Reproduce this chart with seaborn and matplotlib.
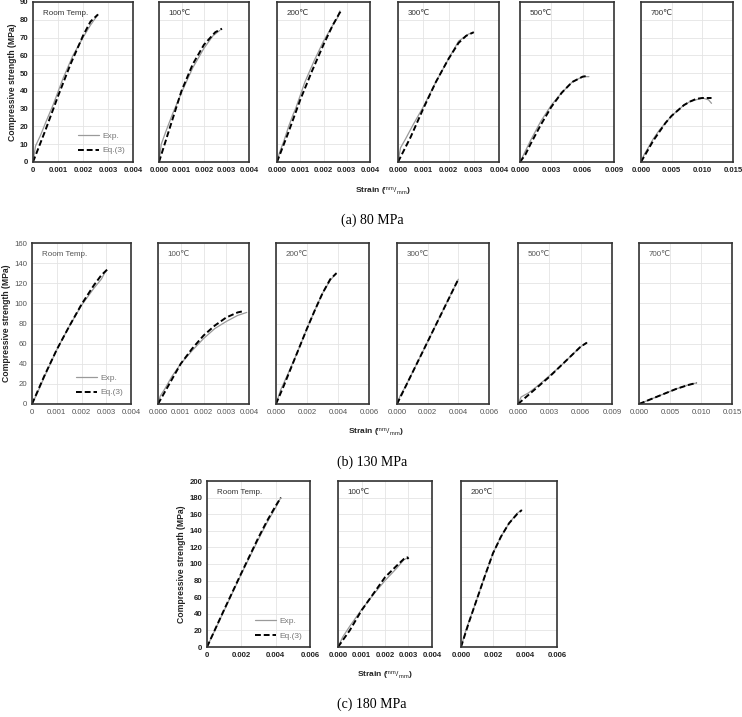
import matplotlib
matplotlib.use("Agg")
import matplotlib.pyplot as plt
import seaborn as sns
import numpy as np

# ---- data (strain, stress MPa) ----
# (a) 80 MPa
exp_80_rt = [(0, 0), (0.0001, 9), (0.0003, 15), (0.0005, 22), (0.0008, 32), (0.0012, 47), (0.0016, 60), (0.002, 70), (0.0023, 77), (0.0025, 81), (0.0026, 83)]
eq_80_rt = [(0, 0), (0.0005, 18), (0.001, 37), (0.0015, 55), (0.002, 71), (0.0023, 79), (0.0026, 83)]
exp_80_100 = [(0, 0), (0.0001, 10), (0.0003, 17), (0.0006, 27), (0.001, 39), (0.0015, 53), (0.002, 64), (0.0024, 71), (0.0027, 74)]
eq_80_100 = [(0, 0), (0.0005, 20), (0.001, 40), (0.0015, 55), (0.002, 66), (0.0025, 73), (0.0028, 75)]
exp_80_200 = [(0, 0), (0.0001, 5), (0.0003, 12), (0.0005, 20), (0.0007, 27), (0.0008, 30), (0.0012, 45), (0.0016, 57), (0.002, 68), (0.0024, 77), (0.0026, 81), (0.0027, 85)]
eq_80_200 = [(0, 0), (0.0005, 17), (0.001, 35), (0.0015, 51), (0.002, 66), (0.0024, 77), (0.0027, 84), (0.0028, 85)]
exp_80_300 = [(0, 0), (0.0001, 8), (0.0003, 13), (0.0006, 21), (0.001, 31), (0.0015, 45), (0.002, 58), (0.0024, 68), (0.0026, 70), (0.0028, 72), (0.003, 73)]
eq_80_300 = [(0, 0), (0.0005, 14), (0.001, 30), (0.0015, 45), (0.002, 58), (0.0024, 67), (0.0027, 71), (0.003, 73)]
exp_80_500 = [(0, 0), (0.0005, 6), (0.001, 12), (0.002, 23), (0.003, 32), (0.004, 39), (0.005, 45), (0.006, 48), (0.0066, 48)]
eq_80_500 = [(0, 0), (0.0005, 4), (0.001, 10), (0.002, 21), (0.003, 31), (0.004, 39), (0.005, 45), (0.006, 48), (0.0065, 48.5)]
exp_80_700 = [(0, 0), (0.0005, 4), (0.001, 7), (0.002, 13), (0.003, 18), (0.004, 22), (0.005, 26), (0.006, 29), (0.007, 32), (0.008, 34), (0.009, 35), (0.010, 36), (0.011, 35), (0.0115, 33)]
eq_80_700 = [(0, 0), (0.001, 6), (0.002, 12), (0.003, 17), (0.004, 22), (0.005, 26), (0.006, 29), (0.007, 32), (0.008, 34), (0.009, 35.5), (0.010, 36), (0.0115, 36)]

# (b) 130 MPa
exp_130_rt = [(0, 0), (0.0002, 10), (0.0005, 27), (0.001, 54), (0.0015, 77), (0.002, 98), (0.0025, 115), (0.0028, 124), (0.003, 133)]
eq_130_rt = [(0, 0), (0.0005, 28), (0.001, 54), (0.0015, 77), (0.002, 99), (0.0025, 118), (0.0028, 128), (0.0031, 135)]
exp_130_100 = [(0, 0), (0.0001, 8), (0.0003, 15), (0.0006, 27), (0.001, 40), (0.0015, 53), (0.002, 65), (0.0025, 75), (0.003, 82), (0.0035, 88), (0.0039, 91)]
eq_130_100 = [(0, 0), (0.0005, 20), (0.001, 40), (0.0015, 55), (0.002, 68), (0.0025, 78), (0.003, 86), (0.0035, 91), (0.0037, 92)]
exp_130_200 = [(0, 0), (0.0003, 14), (0.0008, 31), (0.0012, 45), (0.0015, 56), (0.002, 75), (0.0025, 93), (0.003, 110), (0.0035, 123), (0.0039, 130)]
eq_130_200 = [(0, 0), (0.0005, 18), (0.001, 37), (0.0015, 56), (0.002, 75), (0.0025, 93), (0.003, 110), (0.0035, 124), (0.0039, 130)]
exp_130_300 = [(0, 0), (0.0002, 8), (0.0005, 16), (0.001, 31), (0.002, 62), (0.003, 93), (0.004, 124)]
eq_130_300 = [(0, 0), (0.001, 31), (0.002, 62), (0.003, 93), (0.004, 124)]
exp_130_500 = [(0, 0), (0.0003, 7), (0.001, 11), (0.002, 19), (0.003, 28), (0.004, 37), (0.005, 47), (0.006, 57), (0.0066, 61)]
eq_130_500 = [(0, 0), (0.001, 9), (0.002, 18), (0.003, 27), (0.004, 37), (0.005, 47), (0.006, 57), (0.0066, 61)]
exp_130_700 = [(0, 0), (0.002, 5), (0.004, 10), (0.006, 15), (0.008, 19), (0.0093, 21)]
eq_130_700 = [(0, 0), (0.002, 5), (0.004, 10), (0.006, 15), (0.008, 19), (0.0093, 21)]

# (c) 180 MPa
exp_180_rt = [(0, 0), (0.001, 44), (0.002, 88), (0.003, 130), (0.0035, 150), (0.004, 168), (0.0043, 180)]
eq_180_rt = [(0, 0), (0.001, 45), (0.002, 89), (0.003, 132), (0.0035, 152), (0.004, 170), (0.0043, 180)]
exp_180_100 = [(0, 0), (0.0002, 12), (0.0005, 25), (0.001, 45), (0.0015, 63), (0.002, 80), (0.0025, 95), (0.0028, 105), (0.003, 108)]
eq_180_100 = [(0, 0), (0.0005, 20), (0.001, 44), (0.0015, 64), (0.002, 84), (0.0025, 98), (0.0028, 106), (0.00295, 108), (0.003, 106)]
exp_180_200 = [(0, 0), (0.0003, 20), (0.001, 58), (0.0015, 86), (0.002, 113), (0.0025, 133), (0.003, 149), (0.0035, 161), (0.0038, 165)]
eq_180_200 = [(0, 0), (0.0005, 30), (0.001, 58), (0.0015, 86), (0.002, 113), (0.0025, 133), (0.003, 149), (0.0035, 160), (0.0038, 165)]

panel_labels = ["Room Temp.", "100℃", "200℃", "300℃", "500℃", "700℃"]
ticks_004 = [0, 0.001, 0.002, 0.003, 0.004]
ticks_006 = [0, 0.002, 0.004, 0.006]
ticks_009 = [0, 0.003, 0.006, 0.009]
ticks_015 = [0, 0.005, 0.010, 0.015]
captions = ["(a) 80 MPa", "(b) 130 MPa", "(c) 180 MPa"]

W, H = 742, 717

sns.set_theme(style="whitegrid")
plt.rcParams["font.family"] = ["Liberation Sans", "DejaVu Sans"]
plt.rcParams["mathtext.fontset"] = "custom"
plt.rcParams["mathtext.rm"] = "Liberation Sans"
plt.rcParams["mathtext.it"] = "Liberation Sans"

fig = plt.figure(figsize=(W / 100, H / 100), dpi=100)


def box(x0, x1, y0, y1):
    return [x0 / W, 1 - y1 / H, (x1 - x0) / W, (y1 - y0) / H]


def panel(pos, exp, eq, xticks, ymax, ystep, label, first, bold):
    ax = fig.add_axes(box(*pos))
    ex = np.array(exp)
    qx = np.array(eq)
    sns.lineplot(x=ex[:, 0], y=ex[:, 1], ax=ax, color="#9a9a9a", linewidth=0.9,
                 label="Exp.", sort=False, estimator=None)
    sns.lineplot(x=qx[:, 0], y=qx[:, 1], ax=ax, color="black", linewidth=1.4,
                 linestyle=(0, (3, 1.5)), label="Eq.(3)", sort=False, estimator=None)
    ax.set_xlim(0, xticks[-1])
    ax.set_ylim(0, ymax)
    ax.set_xticks(xticks)
    ax.set_yticks(np.arange(0, ymax + 1, ystep))
    tcol = "#222222" if bold else "#555555"
    if first:
        ax.set_xticklabels(["0"] + [f"{t:g}" for t in xticks[1:]])
        ax.set_ylabel("Compressive strength (MPa)", fontsize=6.2, fontweight="bold",
                      color="#222222", labelpad=2)
        ax.legend(loc="lower right", frameon=False, fontsize=6, handlelength=2.6,
                  labelcolor="#777777", borderaxespad=0.5, labelspacing=0.8,
                  handletextpad=0.4)
    else:
        ax.set_xticklabels([f"{t:.3f}" for t in xticks])
        ax.set_yticklabels([])
        ax.get_legend().remove()
    ax.tick_params(axis="both", labelsize=5.6, pad=3.5, colors=tcol, length=0)
    for t in ax.get_xticklabels() + ax.get_yticklabels():
        t.set_fontweight("bold" if bold else "normal")
    ax.grid(True, color="#e4e4e4", linewidth=0.6)
    for s in ax.spines.values():
        s.set_color("#333333")
        s.set_linewidth(1.2)
    ax.text(0.1, 0.95, label, transform=ax.transAxes, fontsize=5.8, va="top",
            ha="left", color="#333333" if bold else "#555555")
    return ax


# row (a)
row_a = [(33, 133), (159, 249), (277, 370), (398, 499), (520, 614), (641, 733)]
data_a = [(exp_80_rt, eq_80_rt, ticks_004), (exp_80_100, eq_80_100, ticks_004),
          (exp_80_200, eq_80_200, ticks_004), (exp_80_300, eq_80_300, ticks_004),
          (exp_80_500, eq_80_500, ticks_009), (exp_80_700, eq_80_700, ticks_015)]
for i, ((x0, x1), (e, q, xt)) in enumerate(zip(row_a, data_a)):
    panel((x0, x1, 2, 162), e, q, xt, 90, 10, panel_labels[i], i == 0, True)

# row (b)
row_b = [(32, 131), (158, 249), (276, 369), (397, 489), (518, 612), (639, 732)]
data_b = [(exp_130_rt, eq_130_rt, ticks_004), (exp_130_100, eq_130_100, ticks_004),
          (exp_130_200, eq_130_200, ticks_006), (exp_130_300, eq_130_300, ticks_006),
          (exp_130_500, eq_130_500, ticks_009), (exp_130_700, eq_130_700, ticks_015)]
for i, ((x0, x1), (e, q, xt)) in enumerate(zip(row_b, data_b)):
    panel((x0, x1, 243, 404), e, q, xt, 160, 20, panel_labels[i], i == 0, False)

# row (c)
row_c = [(207, 310), (338, 432), (461, 557)]
data_c = [(exp_180_rt, eq_180_rt, ticks_006), (exp_180_100, eq_180_100, ticks_004),
          (exp_180_200, eq_180_200, ticks_006)]
for i, ((x0, x1), (e, q, xt)) in enumerate(zip(row_c, data_c)):
    panel((x0, x1, 481, 647), e, q, xt, 200, 20, panel_labels[i], i == 0, True)

# strain labels and captions
strain = r"Strain ($^{mm}/_{mm}$)"
for (x, y) in [(383, 192), (376, 433), (385, 676)]:
    fig.text(x / W, 1 - y / H, strain, fontsize=6, fontweight="bold",
             ha="center", va="center", color="#222222")
for cap, y in zip(captions, [220, 462, 704]):
    fig.text(372 / W, 1 - y / H, cap, fontsize=10, ha="center", va="center",
             family=["Liberation Serif", "DejaVu Serif"], color="black")

fig.savefig("out.png", dpi=100)
